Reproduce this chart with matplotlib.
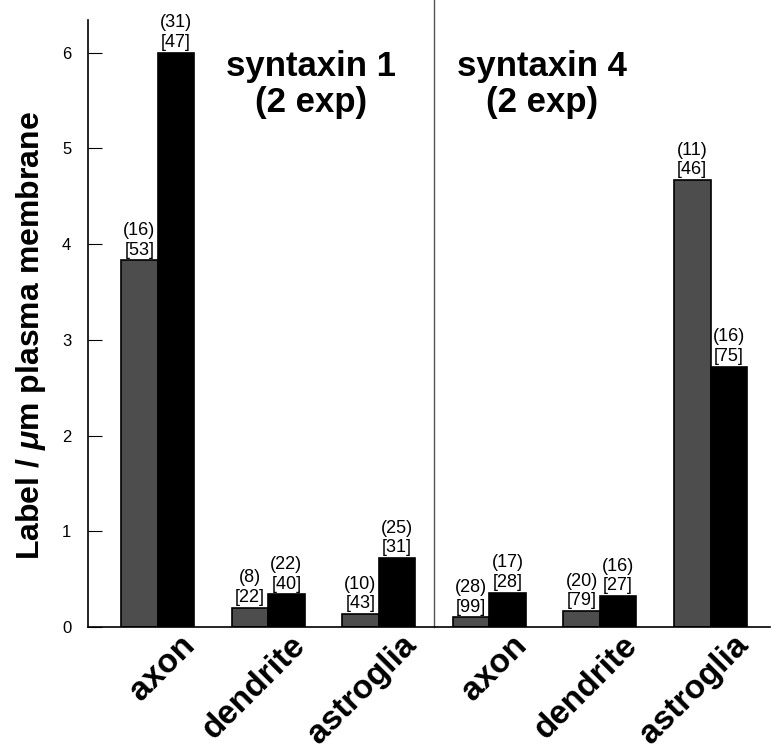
import matplotlib
matplotlib.use("Agg")
import matplotlib.pyplot as plt
import matplotlib.transforms as mtransforms
import numpy as np

plt.rcParams['font.family'] = ['Liberation Sans', 'DejaVu Sans']
plt.rcParams['mathtext.fontset'] = 'custom'
plt.rcParams['mathtext.rm'] = 'Liberation Sans'
plt.rcParams['mathtext.bf'] = 'Liberation Sans:bold'
plt.rcParams['mathtext.bfit'] = 'Liberation Sans:italic:bold'

categories = ['axon', 'dendrite', 'astroglia', 'axon', 'dendrite', 'astroglia']
gray_vals = [3.83, 0.20, 0.135, 0.10, 0.167, 4.67]
black_vals = [6.0, 0.34, 0.72, 0.36, 0.32, 2.72]
gray_n = ['(16)\n[53]', '(8)\n[22]', '(10)\n[43]', '(28)\n[99]', '(20)\n[79]', '(11)\n[46]']
black_n = ['(31)\n[47]', '(22)\n[40]', '(25)\n[31]', '(17)\n[28]', '(16)\n[27]', '(16)\n[75]']
titles = ['syntaxin 1\n(2 exp)', 'syntaxin 4\n(2 exp)']

fig = plt.figure(figsize=(7.71, 7.5), dpi=100)
ax = fig.add_axes([0.114, 0.164, 0.885, 0.809])

x = np.arange(len(categories))
w = 0.33
b1 = ax.bar(x - w / 2, gray_vals, w, color='#4d4d4d', edgecolor='black', linewidth=1.2)
b2 = ax.bar(x + w / 2, black_vals, w, color='black', edgecolor='black', linewidth=1.2)

for rect, lab in zip(list(b1) + list(b2), gray_n + black_n):
    ax.text(rect.get_x() + rect.get_width() / 2, rect.get_height() + 0.02, lab,
            ha='center', va='bottom', fontsize=13, linespacing=1.2)

ax.text(1.39, 5.67, titles[0], ha='center', va='center', fontsize=25, fontweight='bold', linespacing=1.1)
ax.text(3.48, 5.67, titles[1], ha='center', va='center', fontsize=25, fontweight='bold', linespacing=1.1)

ax.axvline(2.5, ymin=0, ymax=1.035, color='#555555', linewidth=1, clip_on=False)

ax.set_xlim(-0.63, 5.54)
ax.set_ylim(0, 6.34)
ax.set_yticks(range(7))
ax.tick_params(axis='y', direction='in', length=10, pad=12, labelsize=12)
ax.set_xticks(x)
ax.set_xticklabels(categories, rotation=45, ha='right', rotation_mode='anchor',
                   fontsize=24, fontweight='bold')
ax.tick_params(axis='x', length=0, pad=2)
offset = mtransforms.ScaledTranslation(0.22, 0, fig.dpi_scale_trans)
for lbl in ax.get_xticklabels():
    lbl.set_transform(lbl.get_transform() + offset)

ax.spines['top'].set_visible(False)
ax.spines['right'].set_visible(False)
ax.spines['left'].set_linewidth(1.2)
ax.spines['bottom'].set_linewidth(1.2)

ax.set_ylabel('Label / $\\mathbfit{\\mu}$m plasma membrane', fontsize=23, fontweight='bold')
ax.yaxis.set_label_coords(-0.058, 0.48)

fig.savefig('out.png', dpi=100)
